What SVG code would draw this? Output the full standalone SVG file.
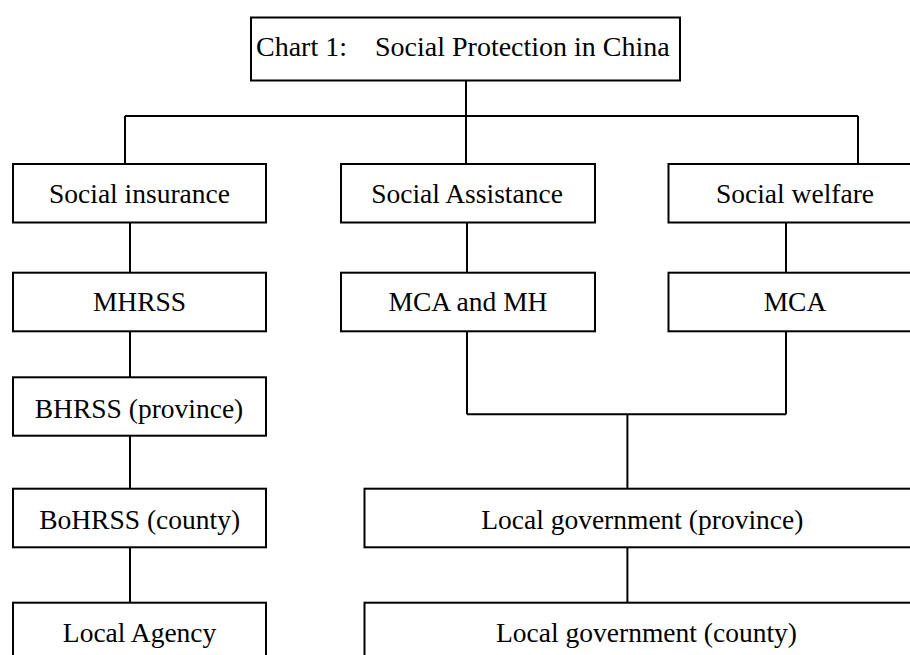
<svg xmlns="http://www.w3.org/2000/svg" width="910" height="655" viewBox="0 0 910 655">
<style>
.box{fill:#fff;stroke:#000;stroke-width:2}
.t{font-family:"Liberation Serif","Times New Roman",serif;font-size:27.5px;fill:#000;text-anchor:middle}
.ln{stroke:#000;stroke-width:2;fill:none}
</style>
<rect width="910" height="655" fill="#fff"/>
<g id="connectors">
<path class="ln" d="M466 80.5V116M125 116H858M125 116V164M466 116V164M858 116V164"/>
<path class="ln" d="M130 222.5V272.7M130 331.3V377.3M130 435.7V488.7M130 547.3V602.7"/>
<path class="ln" d="M467 222.5V272.7M467 331.3V414.3M786 222.5V272.7M786 331.3V414.3M467 414.3H786M627.4 414.3V488.7M627.4 547.3V602.7"/>
</g>
<g id="title"><rect class="box" x="251" y="17.5" width="429" height="63"/>
<text class="t" y="56" style="text-anchor:start;font-size:28px"><tspan x="256">Chart 1:</tspan><tspan x="375">Social Protection in China</tspan></text></g>
<g id="social-insurance"><rect class="box" x="13" y="164" width="253" height="58.5"/><text class="t" x="139.5" y="203">Social insurance</text></g>
<g id="social-assistance"><rect class="box" x="341" y="164" width="254" height="58.5"/><text class="t" x="467" y="203">Social Assistance</text></g>
<g id="social-welfare"><rect class="box" x="668.5" y="164" width="254" height="58.5"/><text class="t" x="795" y="203">Social welfare</text></g>
<g id="mhrss"><rect class="box" x="13" y="272.7" width="253" height="58.6"/><text class="t" x="139.5" y="311">MHRSS</text></g>
<g id="mca-mh"><rect class="box" x="341" y="272.7" width="254" height="58.6"/><text class="t" x="468" y="311">MCA and MH</text></g>
<g id="mca"><rect class="box" x="668.5" y="272.7" width="254" height="58.6"/><text class="t" x="795" y="311">MCA</text></g>
<g id="bhrss"><rect class="box" x="13" y="377.3" width="253" height="58.4"/><text class="t" x="139" y="418">BHRSS (province)</text></g>
<g id="bohrss"><rect class="box" x="13" y="488.7" width="253" height="58.6"/><text class="t" x="139.6" y="529">BoHRSS (county)</text></g>
<g id="local-gov-province"><rect class="box" x="364.5" y="488.7" width="559" height="58.6"/><text class="t" x="642.3" y="529">Local government (province)</text></g>
<g id="local-agency"><rect class="box" x="13" y="602.7" width="253" height="70"/><text class="t" x="139.6" y="642">Local Agency</text></g>
<g id="local-gov-county"><rect class="box" x="364.5" y="602.7" width="559" height="70"/><text class="t" x="646.5" y="642">Local government (county)</text></g>
</svg>
